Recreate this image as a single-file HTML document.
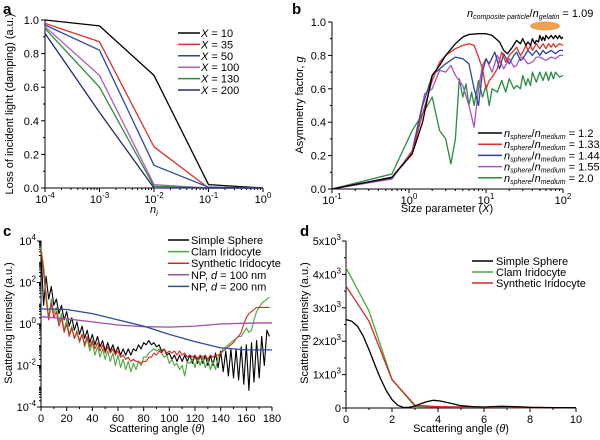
<!DOCTYPE html>
<html><head><meta charset="utf-8"><style>
body{margin:0;background:#fff;}
svg{display:block;font-family:"Liberation Sans",Arial,sans-serif;}
</style></head><body>
<svg id="fig" width="600" height="440" viewBox="0 0 600 440" xmlns="http://www.w3.org/2000/svg">
<text x="3" y="14" font-size="15" font-weight="bold">a</text>
<text x="292" y="14" font-size="15" font-weight="bold">b</text>
<text x="3" y="236" font-size="15" font-weight="bold">c</text>
<text x="300" y="236" font-size="15" font-weight="bold">d</text>
</svg>
<script>
// ---------- DATA ----------
// Panel a
const aX = [1e-4,1e-3,1e-2,1e-1,1];
const aNames = ["X = 10","X = 35","X = 50","X = 100","X = 130","X = 200"];
const aX10 = [1.0,0.965,0.67,0.02,0.0];
const aX35 = [0.98,0.87,0.245,0.0,0.0];
const aX50 = [0.97,0.82,0.135,0.005,0.0];
const aX100 = [0.96,0.67,0.02,0.0,0.0];
const aX130 = [0.95,0.6,0.01,0.0,0.0];
const aX200 = [0.92,0.45,0.0,0.0,0.0];
const aColors = ["#000","#d9342b","#2c4a9a","#b05cb8","#2e8b3e","#232b6e"];
// Panel b
const bBlackX=[0.1,0.6,1.1,1.5,2,2.5,3,4,5,6,8,10,12,15,17,19,22,25,28,30,33,35,38,40,43,45,48,50,53,55,58,60,65,70,75,80,85,90,95,100];
const bBlackG=[0,0.07,0.21,0.4,0.68,0.74,0.8,0.87,0.91,0.925,0.93,0.93,0.92,0.88,0.83,0.81,0.85,0.89,0.87,0.9,0.86,0.88,0.86,0.9,0.87,0.89,0.88,0.92,0.89,0.91,0.89,0.92,0.9,0.92,0.9,0.92,0.9,0.92,0.9,0.91];
const bRedX=[0.1,0.6,1.1,1.5,2,2.5,3,4,5,6,7,8,9,10,11,12,14,16,18,20,23,25,28,30,33,35,38,40,45,50,55,60,65,70,75,80,90,100];
const bRedG=[0,0.07,0.22,0.45,0.65,0.76,0.8,0.84,0.86,0.87,0.86,0.79,0.72,0.6,0.65,0.67,0.72,0.82,0.76,0.8,0.83,0.85,0.8,0.82,0.86,0.83,0.86,0.83,0.87,0.84,0.87,0.84,0.87,0.85,0.87,0.85,0.87,0.86];
const bBlueX=[0.1,0.6,1.1,1.5,2,3,4,5,6,7,7.5,8,9,10,11,13,15,17,20,23,25,28,30,35,40,45,50,55,60,70,80,90,100];
const bBlueG=[0,0.065,0.22,0.5,0.68,0.75,0.79,0.78,0.75,0.6,0.55,0.5,0.7,0.78,0.75,0.82,0.72,0.81,0.75,0.8,0.82,0.77,0.78,0.83,0.8,0.83,0.8,0.83,0.81,0.83,0.81,0.83,0.83];
const bPurpleX=[0.1,0.6,1.1,1.6,2,2.5,3,3.5,4,5,6,7,8,9,10,12,14,17,20,23,25,28,30,35,40,45,50,60,70,80,90,100];
const bPurpleG=[0,0.06,0.23,0.57,0.6,0.71,0.7,0.74,0.68,0.62,0.5,0.37,0.6,0.74,0.78,0.7,0.8,0.72,0.78,0.73,0.74,0.79,0.79,0.75,0.76,0.79,0.79,0.77,0.79,0.78,0.8,0.8];
const bGreenX=[0.1,0.6,1.1,1.5,2,2.5,3,3.5,4,4.5,5,5.5,6,6.5,7,8,9,10,11,12,14,16,18,20,23,25,28,30,33,35,38,40,45,50,55,60,65,70,75,80,90,100];
const bGreenG=[0,0.09,0.35,0.45,0.55,0.35,0.3,0.15,0.3,0.66,0.55,0.63,0.5,0.58,0.5,0.65,0.55,0.62,0.5,0.6,0.58,0.65,0.58,0.66,0.6,0.62,0.6,0.68,0.62,0.66,0.62,0.7,0.64,0.7,0.65,0.7,0.65,0.7,0.66,0.7,0.67,0.68];
const bNames=["1.2","1.33","1.44","1.55","2.0"];
// Panel c (log10 intensity every 2 degrees, smooth series every 20 degrees)
const cAngles2 = Array.from({length:90},(_,i)=>i*2);
const cBlack=[3.5,0.9,2.3,1.2,1.8,0.9,1.2,0.5,0.9,0.2,0.6,-0.1,0.3,-0.3,0.1,-0.5,-0.1,-0.7,-0.3,-0.9,-0.5,-1.0,-0.6,-1.1,-0.8,-1.3,-0.9,-1.3,-1.0,-1.4,-1.1,-1.5,-1.2,-1.5,-1.2,-1.5,-1.2,-1.3,-1.0,-1.2,-0.9,-1.0,-0.8,-1.0,-0.9,-1.1,-1.0,-1.3,-1.2,-1.5,-1.4,-1.7,-1.5,-1.8,-1.5,-1.8,-1.5,-1.8,-1.5,-1.9,-1.5,-1.9,-1.5,-1.9,-1.5,-2.0,-1.5,-2.0,-1.4,-2.1,-1.3,-2.3,-1.3,-2.5,-1.2,-2.6,-1.2,-2.7,-1.1,-2.9,-1.0,-3.2,-0.9,-2.8,-0.8,-2.6,-0.6,-2.0,-0.3,-0.6];
const cGreen=[3.7,2.8,1.5,0.3,1.2,0.5,0.8,0.1,0.5,-0.3,0.2,-0.5,-0.1,-0.7,-0.3,-0.9,-0.5,-1.1,-0.7,-1.3,-0.9,-1.5,-1.1,-1.6,-1.2,-1.7,-1.3,-1.8,-1.4,-2.0,-1.5,-2.1,-1.7,-2.2,-1.8,-2.3,-1.9,-2.2,-1.8,-2.0,-1.6,-1.6,-1.4,-1.3,-1.2,-1.3,-1.2,-1.4,-1.6,-1.5,-1.9,-1.7,-2.0,-1.9,-2.2,-2.0,-2.5,-1.8,-1.9,-1.7,-2.1,-1.6,-2.0,-1.6,-2.1,-1.7,-2.2,-1.8,-2.2,-1.6,-1.4,-1.2,-1.1,-1.0,-0.9,-0.8,-0.7,-0.6,-0.6,-0.4,-0.2,-0.4,-0.3,0.2,0.6,0.8,1.0,1.1,1.2,1.3];
const cRed=[3.5,2.5,1.2,0.2,1.0,0.3,0.6,-0.1,0.3,-0.4,0.0,-0.6,-0.2,-0.7,-0.4,-0.8,-0.5,-1.0,-0.6,-1.1,-0.8,-1.2,-0.9,-1.3,-1.0,-1.4,-1.1,-1.4,-1.2,-1.5,-1.3,-1.6,-1.5,-1.7,-1.6,-1.8,-1.7,-1.8,-1.8,-1.9,-1.8,-1.8,-1.6,-1.6,-1.4,-1.5,-1.3,-1.4,-1.2,-1.4,-1.3,-1.4,-1.3,-1.5,-1.3,-1.5,-1.4,-1.6,-1.5,-1.6,-1.5,-1.7,-1.5,-1.6,-1.5,-1.7,-1.5,-1.6,-1.5,-1.5,-1.4,-1.3,-1.2,-1.1,-1.0,-0.9,-0.7,-0.6,-0.4,0.0,0.3,0.5,0.6,0.7,0.8,0.8,0.8,0.8,0.8,0.8];
const cAngles20=[0,20,40,60,80,100,120,140,160,180];
const cNP100=[0.35,0.25,0.1,-0.05,-0.13,-0.15,-0.1,0.0,0.04,0.06];
const cNP200=[0.73,0.7,0.5,0.2,-0.1,-0.5,-0.85,-1.15,-1.25,-1.25];
const cNames=["Simple Sphere","Clam Iridocyte","Synthetic Iridocyte"];
// Panel d
const dSphereX=[0,0.25,0.5,0.75,1,1.25,1.5,1.75,2,2.25,2.5,2.75,3,3.25,3.5,3.8,4.1,4.5,5,5.5,6,6.5,6.8,7.5,8,9,10];
const dSphereY=[2650,2600,2450,2150,1750,1300,880,520,250,80,15,20,60,130,190,230,210,150,70,40,30,45,50,35,20,10,5];
const dClamX=[0,1,2,3,4,6,8,10];
const dClamY=[4200,2900,850,50,30,20,10,5];
const dSynX=[0,1,2,3,4,6,8,10];
const dSynY=[3650,2600,850,80,40,25,10,5];

// ---------- HELPERS ----------
const NS="http://www.w3.org/2000/svg";
const svg=document.getElementById('fig');
function mk(tag,attrs,parent){const e=document.createElementNS(NS,tag);for(const k in attrs)e.setAttribute(k,attrs[k]);(parent||svg).appendChild(e);return e;}
function poly(xs,ys,fx,fy,color,name,w){
  const pts=xs.map((x,i)=>fx(x).toFixed(1)+","+fy(ys[i]).toFixed(1)).join(" ");
  const p=mk('polyline',{points:pts,fill:'none',stroke:color,'stroke-width':w||1.3,'stroke-linejoin':'round'});
  
  
  return p;
}
function txt(x,y,s,size,anchor,name,extra){
  const t=mk('text',Object.assign({x:x,y:y,'font-size':size||11,'text-anchor':anchor||'start'},extra||{}));
  t.innerHTML=s;
  
  
  return t;
}
function line(x1,y1,x2,y2,name,col,w){
  const l=mk('line',{x1:x1,y1:y1,x2:x2,y2:y2,stroke:col||'#000','stroke-width':w||1});
  
  
  return l;
}
function axes(x0,x1,y0,y1,prefix){
  line(x0,y1,x0,y0,prefix+'-y-axis');
  line(x0,y0,x1,y0,prefix+'-x-axis');
}
const sup=(b,e)=>b+'<tspan dy="-5" font-size="8">'+e+'</tspan>';

// ---------- PANEL A ----------
const aL=45,aR=263,aT=20,aB=188;
const ax=v=>aL+(Math.log10(v)+4)/4*(aR-aL);
const ay=v=>aB-v*(aB-aT);
axes(aL,aR,aB,aT,'panel-a');
for(let e=-4;e<=0;e++){
  line(ax(10**e),aB,ax(10**e),aB+4,'a-x-tick');
  txt(ax(10**e),aB+15,sup('10',e),11,'middle','a-x-tick-label');
  if(e<0)for(let m=2;m<10;m++)line(ax(m*10**e),aB,ax(m*10**e),aB+2,'a-x-minor-tick');
}
for(let i=0;i<=5;i++){
  const v=i*0.2;
  line(aL-4,ay(v),aL,ay(v),'a-y-tick');
  txt(aL-6,ay(v)+4,v.toFixed(1),11,'end','a-y-tick-label');
  if(i<5)line(aL-2,ay(v+0.1),aL,ay(v+0.1),'a-y-minor-tick');
}
txt(13,104,'Loss of incident light (damping) (a.u.)',11,'middle','a-y-axis-title',{transform:'rotate(-90 13 104)'});
txt(154,213,'<tspan font-style="italic">n</tspan><tspan font-size="8" dy="3" font-style="italic">i</tspan>',11,'middle','a-x-axis-title');
const aSeries=[aX10,aX35,aX50,aX100,aX130,aX200];
aSeries.forEach((s,i)=>{
  poly(aX,s,ax,ay,aColors[i],'a-line-'+i,1.3);
  const ly=33+i*11.4;
  line(178,ly,200,ly,'a-legend-swatch',aColors[i],1.5);
  txt(201,ly+4,'<tspan font-style="italic">X</tspan>'+aNames[i].slice(1),11,'start','a-legend-entry');
});

// ---------- PANEL B ----------
const bL=332,bR=563,bT=22,bB=189;
const bx=v=>bL+(Math.log10(v)+1)/3*(bR-bL);
const by=v=>bB-v*(bB-bT);
axes(bL,bR,bB,bT,'panel-b');
for(let e=-1;e<=2;e++){
  line(bx(10**e),bB,bx(10**e),bB+4,'b-x-tick');
  txt(bx(10**e),bB+15,sup('10',e),11,'middle','b-x-tick-label');
  if(e<2)for(let m=2;m<10;m++)line(bx(m*10**e),bB,bx(m*10**e),bB+2,'b-x-minor-tick');
}
for(let i=0;i<=5;i++){
  const v=i*0.2;
  line(bL-4,by(v),bL,by(v),'b-y-tick');
  txt(bL-6,by(v)+4,v.toFixed(1),11,'end','b-y-tick-label');
  if(i<5)line(bL-2,by(v+0.1),bL,by(v+0.1),'b-y-minor-tick');
}
txt(303,105,'Asymmetry factor, <tspan font-style="italic">g</tspan>',11,'middle','b-y-axis-title',{transform:'rotate(-90 303 105)'});
txt(447,212,'Size parameter (<tspan font-style="italic">X</tspan>)',11,'middle','b-x-axis-title');
const bCol=["#000","#e0302a","#2a45a0","#b050c0","#2a8a45"];
const bXs=[bBlackX,bRedX,bBlueX,bPurpleX,bGreenX];
const bYs=[bBlackG,bRedG,bBlueG,bPurpleG,bGreenG];
[4,3,2,1,0].forEach(i=>poly(bXs[i],bYs[i],bx,by,bCol[i],'b-line-'+i,1.3));
bNames.forEach((n,i)=>{
  const ly=133+i*11.2;
  line(478,ly,502,ly,'b-legend-swatch',bCol[i],1.5);
  txt(504,ly+4,'<tspan font-style="italic">n</tspan><tspan font-size="7" dy="2" font-style="italic">sphere</tspan><tspan dy="-2">/</tspan><tspan font-style="italic">n</tspan><tspan font-size="7" dy="2" font-style="italic">medium</tspan><tspan dy="-2"> = '+n+'</tspan>',11,'start','b-legend-entry');
});
txt(467,17,'<tspan font-style="italic">n</tspan><tspan font-size="7" dy="2" font-style="italic">composite particle</tspan><tspan dy="-2">/</tspan><tspan font-style="italic">n</tspan><tspan font-size="7" dy="2" font-style="italic">gelatin</tspan><tspan dy="-2"> = 1.09</tspan>',11,'start','b-annotation');
const ell=mk('ellipse',{cx:545,cy:26,rx:15,ry:4.5,fill:'#f0a050'});



// ---------- PANEL C ----------
const cL=41,cR=272,cT=241,cB=407;
const cx=v=>cL+v/180*(cR-cL);
const cy=v=>cB-(v+4)/8*(cB-cT);
axes(cL,cR,cB,cT,'panel-c');
for(let a=0;a<=180;a+=20){
  line(cx(a),cB,cx(a),cB+4,'c-x-tick');
  txt(cx(a),cB+15,String(a),11,'middle','c-x-tick-label');
  if(a<180)line(cx(a+10),cB,cx(a+10),cB+2,'c-x-minor-tick');
}
for(let e=-4;e<=4;e++){
  if(e%2===0){line(cL-4,cy(e),cL,cy(e),'c-y-tick');txt(cL-5,cy(e)+4,sup('10',e),11,'end','c-y-tick-label');}
  if(e<4)for(let m=2;m<10;m++)line(cL-2,cy(e+Math.log10(m)),cL,cy(e+Math.log10(m)),'c-y-minor-tick');
}
txt(12,323,'Scattering intensity (a.u.)',11,'middle','c-y-axis-title',{transform:'rotate(-90 12 323)'});
txt(157,432,'Scattering angle (<tspan font-style="italic">θ</tspan>)',11,'middle','c-x-axis-title');
const cCol=["#000","#4aa83a","#d42a20","#a050a8","#2e4d9c"];
poly(cAngles2,cBlack,cx,cy,cCol[0],'c-line-simple-sphere',1.1);
poly(cAngles2,cGreen,cx,cy,cCol[1],'c-line-clam-iridocyte',1.1);
poly(cAngles2,cRed,cx,cy,cCol[2],'c-line-synthetic-iridocyte',1.1);
poly(cAngles20,cNP100,cx,cy,cCol[3],'c-line-np-100',1.3);
poly(cAngles20,cNP200,cx,cy,cCol[4],'c-line-np-200',1.3);
const cLeg=["Simple Sphere","Clam Iridocyte","Synthetic Iridocyte","NP, <tspan font-style=\"italic\">d</tspan> = 100 nm","NP, <tspan font-style=\"italic\">d</tspan> = 200 nm"];
cLeg.forEach((n,i)=>{
  const ly=240+i*11.6;
  line(168,ly,189,ly,'c-legend-swatch',cCol[i],1.5);
  txt(191,ly+4,n,11,'start','c-legend-entry');
});

// ---------- PANEL D ----------
const dL=346,dR=576,dT=241,dB=408;
const dx=v=>dL+v/10*(dR-dL);
const dy=v=>dB-v/5000*(dB-dT);
axes(dL,dR,dB,dT,'panel-d');
for(let a=0;a<=10;a+=2){
  line(dx(a),dB,dx(a),dB+4,'d-x-tick');
  txt(dx(a),dB+15,String(a),11,'middle','d-x-tick-label');
  if(a<10)line(dx(a+1),dB,dx(a+1),dB+2,'d-x-minor-tick');
}
for(let k=0;k<=5;k++){
  line(dL-4,dy(k*1000),dL,dy(k*1000),'d-y-tick');
  txt(dL-5,dy(k*1000)+4,k===0?'0':sup(k+'x10','3'),11,'end','d-y-tick-label');
  if(k<5)line(dL-2,dy(k*1000+500),dL,dy(k*1000+500),'d-y-minor-tick');
}
txt(308,323,'Scattering intensity (a.u.)',11,'middle','d-y-axis-title',{transform:'rotate(-90 308 323)'});
txt(461,432,'Scattering angle (<tspan font-style="italic">θ</tspan>)',11,'middle','d-x-axis-title');
poly(dClamX,dClamY,dx,dy,"#4aa83a",'d-line-clam-iridocyte',1.3);
poly(dSynX,dSynY,dx,dy,"#d42a20",'d-line-synthetic-iridocyte',1.3);
poly(dSphereX,dSphereY,dx,dy,"#000",'d-line-simple-sphere',1.3);
const dCol=["#000","#4aa83a","#d42a20"];
cNames.forEach((n,i)=>{
  const ly=261+i*11;
  line(472,ly,493,ly,'d-legend-swatch',dCol[i],1.5);
  txt(496,ly+4,n,11,'start','d-legend-entry');
});
</script>
</body></html>
